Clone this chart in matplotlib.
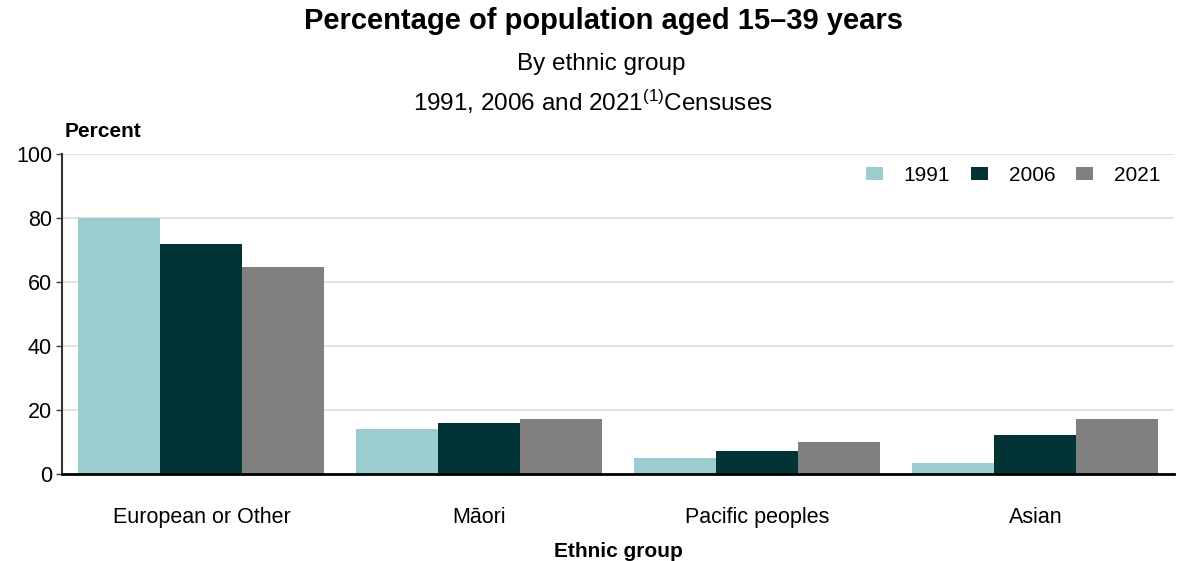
import matplotlib
matplotlib.use("Agg")
import matplotlib.pyplot as plt
import numpy as np

plt.rcParams['font.family'] = ['Liberation Sans', 'DejaVu Sans']
plt.rcParams['mathtext.fontset'] = 'custom'
plt.rcParams['mathtext.rm'] = 'Liberation Sans'
plt.rcParams['mathtext.it'] = 'Liberation Sans'

# percent of each ethnic group aged 15-39, by census year
groups = ['European or Other', 'Māori', 'Pacific peoples', 'Asian']
years = ['1991', '2006', '2021']
pct_1991 = [80.0, 14.1, 5.0, 3.5]
pct_2006 = [71.8, 16.0, 7.2, 12.2]
pct_2021 = [64.9, 17.3, 10.0, 17.3]
colors = ['#9ccdce', '#023436', '#808080']

fig = plt.figure(figsize=(11.78, 5.61), dpi=100)
ax = fig.add_axes([0.053, 0.155, 0.944, 0.57])

x = np.arange(len(groups))
w = 0.295
for i, (vals, yr) in enumerate(zip([pct_1991, pct_2006, pct_2021], years)):
    ax.bar(x + (i - 1) * w, vals, width=w, color=colors[i], label=yr, zorder=2)

ax.set_xlim(-0.5, 3.5)
ax.set_ylim(0, 100)
ax.set_yticks(range(0, 101, 20))
ax.set_xticks(x)
ax.set_xticklabels(groups, fontsize=15.5)
ax.tick_params(axis='y', labelsize=15.5, length=4, width=1, color='#444444')
ax.tick_params(axis='x', length=0, pad=24)
ax.grid(axis='y', color='#dddddd', linewidth=1.2, zorder=0)
for s in ['top', 'right']:
    ax.spines[s].set_visible(False)
ax.spines['left'].set_linewidth(1.5)
ax.spines['bottom'].set_linewidth(2)
ax.spines['left'].set_color('#333333')

ax.set_xlabel('Ethnic group', fontsize=15, fontweight='bold', labelpad=10)
ax.text(0.002, 1.04, 'Percent', transform=ax.transAxes, fontsize=15,
        fontweight='bold', ha='left', va='bottom')

leg = ax.legend(loc='upper right', ncol=3, frameon=False, fontsize=15,
                handlelength=0.8, handleheight=0.55, columnspacing=1.0,
                handletextpad=1.0, borderaxespad=0.3,
                bbox_to_anchor=(1.0, 1.01))

fig.text(0.512, 0.962, 'Percentage of population aged 15–39 years',
         ha='center', va='center', fontsize=21, fontweight='bold')
fig.text(0.510, 0.886, 'By ethnic group', ha='center', va='center', fontsize=17.5)
fig.text(0.503, 0.818, r'1991, 2006 and 2021$^{(1)}$Censuses',
         ha='center', va='center', fontsize=17.5)

fig.savefig('out.png', dpi=100)
